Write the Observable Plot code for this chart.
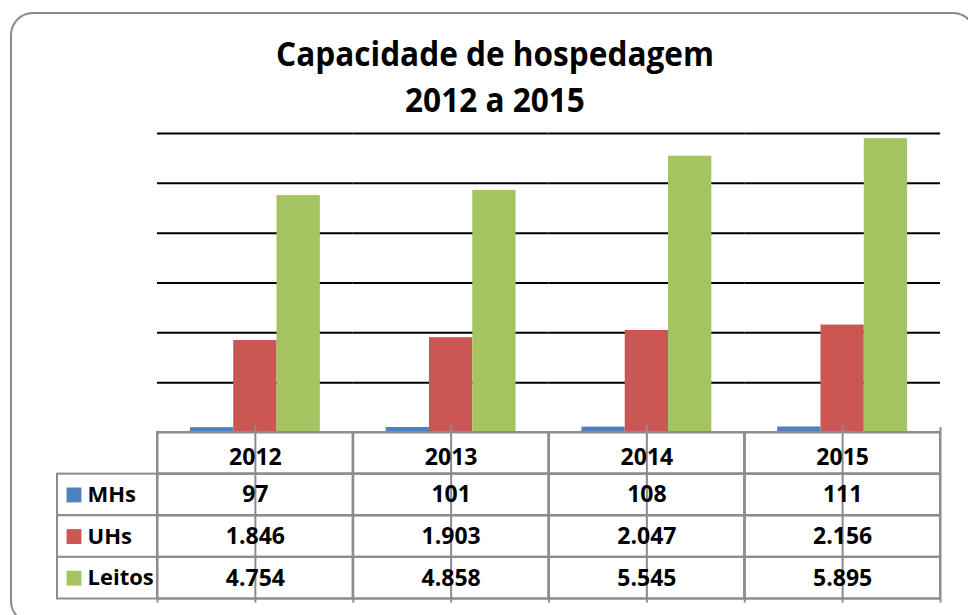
<!DOCTYPE html>
<html>
<head>
<meta charset="utf-8">
<script src="https://cdn.jsdelivr.net/npm/d3@7"></script>
<script src="https://cdn.jsdelivr.net/npm/@observablehq/plot@0.6"></script>
<style>
  html, body { margin: 0; padding: 0; background: #fff; }
  #wrap { position: relative; width: 968px; height: 615px; overflow: hidden; font-family: "Open Sans", sans-serif; }
  #frame { position: absolute; left: 10px; top: 12px; width: 966px; height: 612px; box-sizing: border-box;
           border: 2px solid #8a8a8a; border-radius: 23px; }
  .title { position: absolute; left: 0; width: 990px; text-align: center; font-weight: 700; color: #000;
           white-space: nowrap; font-size: 33.6px; line-height: 33.6px; transform: scaleX(0.94); transform-origin: 495px 0; }
  #t1 { top: 37px; }
  #t2 { top: 83px; }
  #chartA { position: absolute; left: 0; top: 0; }
  #chartB { position: absolute; left: 0; top: 424px; }
</style>
</head>
<body>
<div id="wrap">
  <div id="frame"></div>
  <div id="chartA"></div>
  <div id="chartB"></div>
  <div class="title" id="t1">Capacidade de hospedagem</div>
  <div class="title" id="t2">2012 a 2015</div>
</div>
<script>
// ---- data ----
const years = ["2012", "2013", "2014", "2015"];
const series = ["MHs", "UHs", "Leitos"];
const mhs = [97, 101, 108, 111];
const uhs = [1846, 1903, 2047, 2156];
const leitos = [4754, 4858, 5545, 5895];
const gridTicks = [1000, 2000, 3000, 4000, 5000, 6000];
const colors = ["#4F81BD", "#CB5754", "#A4C462"];

const valuesBySeries = {MHs: mhs, UHs: uhs, Leitos: leitos};
const data = years.flatMap((year, i) => series.map(s => ({year, series: s, value: valuesBySeries[s][i]})));
const rows = ["header", ...series];
const fmt = d3.formatLocale({decimal: ",", thousands: ".", grouping: [3], currency: ["R$", ""]}).format(",d");

const gray = "#8c8c8c";
const font = "'Open Sans', sans-serif";
const plotLeft = 157, plotRight = 940;
const halfCol = (plotRight - plotLeft) / years.length / 2;

// ---- chart A: bars ----
const chartA = Plot.plot({
  width: 968, height: 434,
  marginTop: 133, marginBottom: 2, marginLeft: plotLeft, marginRight: 968 - plotRight,
  style: {background: "transparent", fontFamily: font},
  fx: {domain: years, padding: 0, axis: null, round: false},
  x: {domain: series, paddingInner: 0, paddingOuter: 0.76, axis: null, round: false},
  y: {domain: [0, 6000], axis: null},
  color: {domain: series, range: colors},
  marks: [
    Plot.ruleY(gridTicks, {stroke: "#000", strokeWidth: 2}),
    Plot.barY(data, {fx: "year", x: "series", y: "value", fill: "series"}),
    Plot.ruleY([0], {stroke: gray, strokeWidth: 2})
  ]
});
document.getElementById("chartA").append(chartA);

// ---- chart B: data table ----
const headerCells = years.map(year => ({year, row: "header", label: year}));
const valueCells = data.map(d => ({year: d.year, row: d.series, label: fmt(d.value)}));
const allCells = years.flatMap(year => rows.map(row => ({year, row})));

const chartB = Plot.plot({
  width: 968, height: 181,
  marginTop: 8, marginBottom: 6.5, marginLeft: 57, marginRight: 968 - plotRight,
  style: {background: "transparent", fontFamily: font},
  x: {domain: years, range: [plotLeft, plotRight], padding: 0, axis: null, round: false},
  y: {domain: rows, padding: 0, axis: null, round: false},
  color: {domain: series, range: colors},
  marks: [
    Plot.cell(series, {y: d => d, fill: "white", stroke: gray, strokeWidth: 2}),
    Plot.cell(allCells, {x: "year", y: "row", fill: "none", stroke: gray, strokeWidth: 2}),
    // category-center tick lines running through the table
    Plot.ruleX(years, {x: d => d, stroke: gray, strokeWidth: 2, insetTop: -7, insetBottom: -4}),
    // column boundary ticks extending below the table
    Plot.ruleX(years, {x: d => d, dx: -halfCol, stroke: gray, strokeWidth: 2, insetBottom: -4}),
    Plot.ruleX(years.slice(-1), {x: d => d, dx: halfCol, stroke: gray, strokeWidth: 2, insetTop: -5, insetBottom: -4}),
    Plot.text(headerCells, {x: "year", y: "row", text: "label", dy: 4, fontSize: 23, fontWeight: "bold", fill: "#000"}),
    Plot.text(valueCells, {x: "year", y: "row", text: "label", fontSize: 23, fontWeight: "bold", fill: "#000"}),
    Plot.dot(series, {y: d => d, frameAnchor: "left", dx: 16.5, symbol: "square", r: 8.4, fill: d => d, stroke: null}),
    Plot.text(series, {y: d => d, frameAnchor: "left", dx: 30, textAnchor: "start", text: d => d, fontSize: 22, fontWeight: "bold", fill: "#000"})
  ]
});
document.getElementById("chartB").append(chartB);
</script>
</body>
</html>
